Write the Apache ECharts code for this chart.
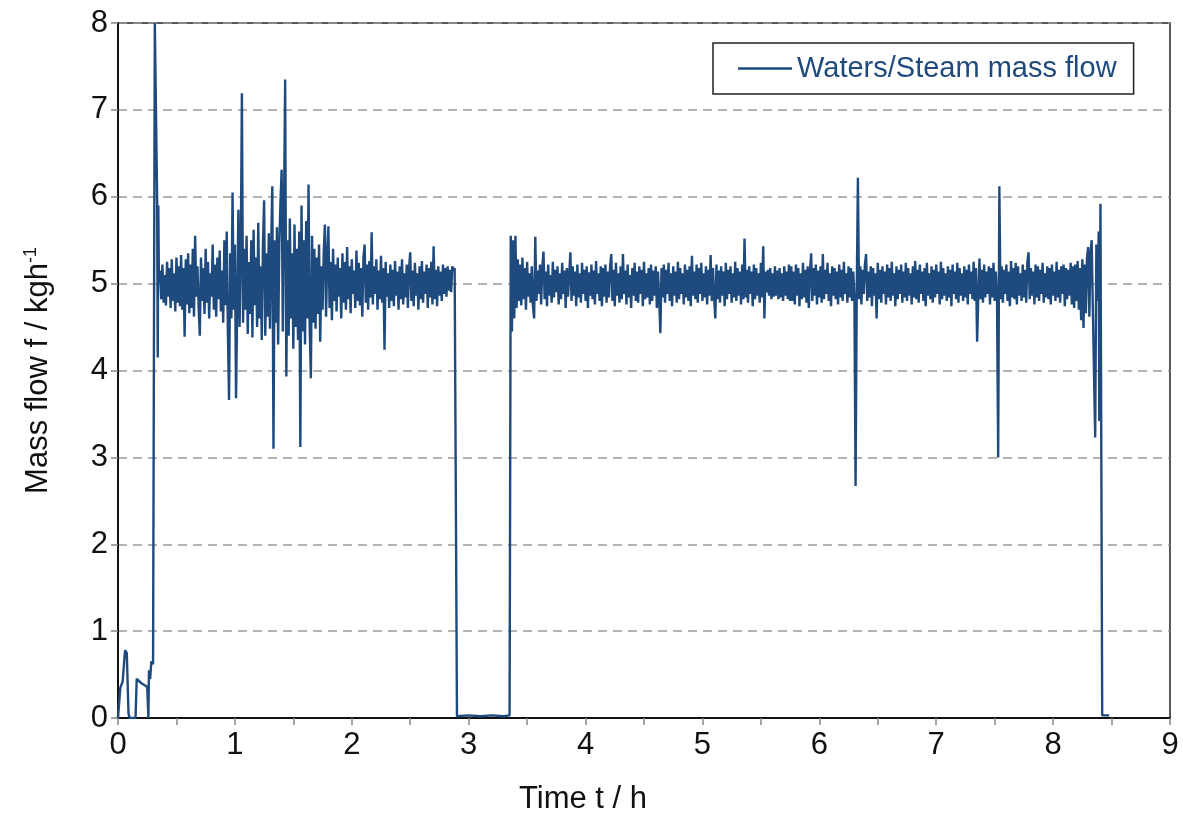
<!DOCTYPE html>
<html>
<head>
<meta charset="utf-8">
<title>Waters/Steam mass flow</title>
<script src="https://cdn.jsdelivr.net/npm/echarts@6/dist/echarts.min.js"></script>
<style>
  html, body { margin: 0; padding: 0; background: #fff; }
  #chart { width: 1183px; height: 819px; }
</style>
</head>
<body>
<div id="chart"></div>
<script>
// samples, time in h, mass flow in kg/h
const sampleStep = 0.01;

const startupPoints = [
  [0, 0], [0.02, 0.35], [0.04, 0.42], [0.06, 0.78], [0.075, 0.75], [0.09, 0.05],
  [0.10, 0], [0.15, 0], [0.16, 0.45], [0.20, 0.40], [0.25, 0.36], [0.26, 0],
  [0.265, 0.55], [0.275, 0.45], [0.285, 0.65], [0.30, 0.62], [0.315, 8.0],
  [0.335, 5.95], [0.34, 4.15], [0.345, 5.9], [0.35, 5.0]
];

// first run, one value every 0.01 h from 0.36 h
const runAStart = 0.36;
const runAValues = [
  5.15, 4.82, 5.22, 4.78, 5.10, 4.75, 5.25, 4.85, 5.18, 4.72,
  5.28, 4.80, 5.12, 4.68, 5.30, 4.78, 5.20, 4.74, 5.33, 4.70,
  5.18, 4.39, 5.28, 4.76, 5.35, 4.66, 5.22, 4.72, 5.40, 4.62,
  5.55, 4.85, 5.20, 4.72, 4.40, 5.30, 4.80, 5.18, 4.65, 5.40,
  4.78, 5.25, 4.60, 5.12, 4.85, 5.45, 4.70, 5.22, 4.62, 5.30,
  4.82, 5.38, 4.68, 5.15, 4.55, 5.50, 4.75, 5.60, 4.45, 3.66,
  5.35, 4.60, 6.05, 4.70, 5.45, 3.68, 4.80, 5.85, 4.50, 5.30,
  7.19, 4.55, 5.40, 4.70, 5.55, 4.42, 5.25, 4.65, 5.50, 4.38,
  5.62, 4.75, 5.30, 4.50, 5.70, 4.60, 5.20, 4.35, 5.45, 5.96,
  4.40, 5.35, 4.62, 5.58, 4.48, 5.40, 6.12, 3.10, 5.50, 4.55,
  5.65, 4.30, 5.45, 5.94, 6.31, 4.45, 5.80, 7.35, 3.93, 5.50,
  4.40, 5.75, 4.60, 5.35, 4.25, 5.68, 4.50, 5.40, 4.35, 5.60,
  3.12, 5.90, 4.45, 5.50, 4.30, 5.72, 4.60, 6.14, 4.50, 3.91,
  5.55, 4.55, 5.40, 4.48, 5.30, 4.65, 5.45, 4.33, 5.20, 4.70,
  5.35, 5.68, 4.62, 5.30, 5.66, 4.72, 5.25, 4.58, 5.40, 4.80,
  5.22, 4.68, 5.30, 4.85, 5.18, 4.60, 5.35, 4.78, 5.25, 4.70,
  5.42, 4.82, 5.20, 4.66, 5.28, 4.88, 5.15, 4.72, 5.38, 4.80,
  5.24, 4.75, 5.18, 4.62, 5.30, 5.45, 4.78, 5.22, 4.70, 5.26,
  4.84, 5.59, 4.76, 5.20, 4.88, 5.28, 4.70, 5.15, 4.82, 5.32,
  4.78, 5.18, 4.24, 5.25, 4.85, 5.12, 4.72, 5.22, 4.80, 5.16,
  4.74, 5.26, 4.86, 5.14, 4.70, 5.20, 4.82, 5.28, 4.76, 5.12,
  4.84, 5.22, 4.72, 5.18, 5.36, 4.80, 5.15, 4.74, 5.24, 4.86,
  5.12, 4.70, 5.20, 4.82, 5.26, 4.78, 5.14, 4.88, 5.22, 4.72,
  5.18, 4.84, 5.25, 4.76, 5.43, 4.82, 5.16, 4.74, 5.20, 4.86,
  5.14, 4.80, 5.22, 4.88, 5.18, 4.85, 5.20, 4.92, 5.16, 4.90,
  5.20, 5.15, 5.18
];

const idlePoints = [
  [2.90, 0.02], [3.00, 0.03], [3.10, 0.02], [3.20, 0.03], [3.30, 0.02], [3.35, 0.03]
];

// second run, one value every 0.01 h from 3.36 h
const runBStart = 3.36;
const runBValues = [
  5.55, 4.45, 5.50, 4.60, 5.55, 4.72, 5.28, 4.80, 5.22, 4.75,
  5.30, 4.82, 5.18, 4.70, 5.25, 4.85, 5.12, 4.78, 5.20, 4.74,
  4.60, 5.54, 4.80, 5.15, 4.88, 5.22, 4.76, 5.18, 5.37, 4.82,
  5.14, 4.74, 5.22, 4.86, 5.10, 4.78, 5.25, 4.84, 5.16, 4.90,
  5.20, 4.76, 5.12, 4.82, 5.24, 4.88, 5.15, 4.72, 5.18, 4.85,
  5.10, 5.36, 4.80, 5.20, 4.86, 5.14, 4.74, 5.22, 4.84, 5.12,
  4.78, 5.24, 4.88, 5.16, 4.80, 5.20, 4.72, 5.13, 4.86, 5.22,
  4.82, 5.15, 4.76, 5.26, 4.88, 5.12, 4.80, 5.20, 4.74, 5.18,
  4.85, 5.22, 4.78, 5.14, 4.84, 5.20, 5.34, 4.80, 5.16, 4.74,
  5.24, 4.86, 5.12, 4.78, 5.20, 4.82, 5.34, 4.88, 5.15, 4.76,
  5.22, 4.84, 5.10, 4.72, 5.18, 4.86, 5.24, 4.80, 5.14, 4.78,
  5.20, 4.88, 5.16, 4.74, 5.25, 4.82, 5.12, 4.84, 5.18, 4.76,
  5.22, 4.80, 5.15, 4.86, 5.20, 4.72, 5.14, 4.82, 4.43, 5.18,
  4.84, 5.22, 4.78, 5.16, 4.88, 5.24, 4.80, 5.12, 4.74, 5.20,
  4.86, 5.14, 4.78, 5.25, 4.82, 5.18, 4.88, 5.12, 4.76, 5.22,
  4.84, 5.16, 4.80, 5.20, 4.74, 5.32, 4.86, 5.14, 4.82, 5.22,
  4.78, 5.18, 4.88, 5.24, 4.80, 5.12, 4.84, 5.20, 4.76, 5.16,
  4.86, 5.33, 4.80, 5.18, 4.84, 4.60, 5.22, 4.82, 5.15, 4.78,
  5.20, 4.86, 5.14, 4.74, 5.24, 4.82, 5.16, 4.88, 5.20, 4.78,
  5.12, 4.84, 5.25, 4.80, 5.18, 4.86, 5.14, 4.76, 5.22, 4.82,
  5.52, 4.84, 5.16, 4.78, 5.20, 4.88, 5.14, 4.74, 5.22, 4.82,
  5.18, 4.86, 5.12, 4.78, 5.24, 4.84, 5.43, 4.60, 5.14, 4.90,
  5.16, 4.86, 5.18, 4.82, 5.12, 4.85, 5.20, 4.86, 5.15, 4.82,
  5.18, 4.84, 5.12, 4.80, 5.20, 4.86, 5.14, 4.82, 5.22, 4.80,
  5.20, 4.80, 5.14, 4.76, 5.22, 4.86, 5.18, 4.74, 5.12, 4.82,
  5.24, 4.84, 5.16, 4.78, 5.20, 4.72, 5.14, 5.35, 4.80, 5.18,
  4.86, 5.22, 4.76, 5.15, 4.84, 5.20, 4.78, 5.34, 4.82, 5.16,
  4.88, 5.24, 4.80, 5.12, 4.74, 5.20, 4.86, 5.18, 4.82, 5.14,
  4.76, 5.22, 4.84, 5.16, 4.80, 5.25, 4.88, 5.12, 4.78, 5.20,
  4.84, 5.18, 4.80, 5.14, 4.86, 2.67, 4.90, 6.22, 4.82, 5.20,
  4.76, 5.16, 4.88, 5.22, 5.34, 4.80, 5.14, 4.84, 5.20, 4.74,
  5.18, 4.86, 5.12, 4.60, 5.24, 4.82, 5.16, 4.78, 5.20, 4.88,
  5.14, 4.76, 5.22, 4.84, 5.18, 4.80, 5.25, 4.86, 5.12, 4.74,
  5.20, 4.82, 5.16, 4.88, 5.22, 4.78, 5.14, 4.84, 5.24, 4.80,
  5.18, 4.86, 5.12, 4.76, 5.20, 4.84, 5.26, 4.82, 5.16, 4.78,
  5.22, 4.88, 5.14, 4.80, 5.18, 4.74, 5.24, 4.86, 5.12, 4.82,
  5.20, 4.78, 5.16, 4.84, 5.22, 4.88, 5.14, 4.76, 5.25, 4.82,
  5.18, 4.86, 5.12, 4.80, 5.20, 4.84, 5.16, 4.74, 5.22, 4.88,
  5.14, 4.82, 5.24, 4.78, 5.18, 4.86, 5.12, 4.80, 5.20, 4.84,
  5.16, 4.76, 5.22, 4.88, 5.14, 4.82, 5.25, 4.80, 5.18, 4.33,
  4.86, 5.29, 4.82, 5.16, 4.78, 5.22, 4.84, 5.14, 4.88, 5.20,
  4.76, 5.18, 4.84, 5.24, 4.80, 5.14, 4.86, 3.00, 6.12, 4.82,
  5.20, 4.78, 5.16, 4.88, 5.22, 4.80, 5.14, 4.74, 5.26, 4.84,
  5.18, 4.82, 5.24, 4.76, 5.20, 4.86, 5.12, 4.80, 5.22, 4.84,
  5.16, 4.78, 5.25, 5.36, 4.82, 5.18, 4.86, 5.14, 4.76, 5.22,
  4.84, 5.20, 4.80, 5.16, 4.88, 5.24, 4.78, 5.12, 4.84, 5.20,
  4.82, 5.18, 4.76, 5.22, 4.86, 5.14, 4.80, 5.25, 4.84, 5.16,
  4.78, 5.20, 4.88, 5.22, 4.74, 5.18, 4.82, 5.16, 4.86, 5.24,
  4.76, 5.20, 4.72, 5.22, 4.80, 5.26, 4.70, 5.18, 4.58, 5.28,
  4.49, 5.22, 4.66, 5.30, 5.42, 4.62, 5.35, 5.50, 4.70
];

const shutdownPoints = [
  [8.35, 4.70], [8.36, 3.23], [8.37, 5.45], [8.38, 4.80], [8.39, 5.60],
  [8.395, 3.42], [8.405, 5.92], [8.415, 5.92], [8.42, 0.03], [8.48, 0.03]
];

const xTicks = [0, 1, 2, 3, 4, 5, 6, 7, 8, 9];

function runPoints(start, values) {
  return values.map(function (v, i) {
    return [+(start + i * sampleStep).toFixed(3), v];
  });
}

const flowData = [].concat(
  startupPoints,
  runPoints(runAStart, runAValues),
  idlePoints,
  runPoints(runBStart, runBValues),
  shutdownPoints
);

const font = '"Liberation Sans", Arial, sans-serif';
const lineColor = '#1f4a7e';

const myChart = echarts.init(document.getElementById('chart'));
const option = {
  animation: false,
  backgroundColor: '#fff',
  grid: {
    left: 118,
    right: 13,
    top: 23,
    bottom: 101,
    outerBoundsMode: 'none',
    show: true,
    borderColor: '#222',
    borderWidth: 1.5
  },
  legend: {
    left: 713,
    top: 43,
    orient: 'horizontal',
    icon: 'rect',
    itemWidth: 54,
    itemHeight: 2.5,
    itemGap: 5,
    padding: [11, 17, 11, 25],
    borderColor: '#222',
    borderWidth: 1.5,
    backgroundColor: '#fff',
    textStyle: { fontFamily: font, fontSize: 29, color: lineColor }
  },
  xAxis: {
    type: 'value',
    min: 0,
    max: 9,
    interval: 0.5,
    name: 'Time t / h',
    nameLocation: 'middle',
    nameGap: 66,
    nameTextStyle: { fontFamily: font, fontSize: 31, color: '#111', padding: [0, 122, 0, 0] },
    axisLine: { show: true, lineStyle: { color: '#111', width: 2 } },
    axisTick: { show: true, length: 7, lineStyle: { color: '#888', width: 1.5 } },
    axisLabel: {
      fontFamily: font,
      fontSize: 31,
      color: '#111',
      margin: 12,
      formatter: function (v) {
        return xTicks.indexOf(v) >= 0 ? String(v) : '';
      }
    },
    splitLine: { show: false }
  },
  yAxis: {
    type: 'value',
    min: 0,
    max: 8,
    interval: 1,
    name: '{a|Mass flow f / kgh}{b|-1}',
    nameLocation: 'middle',
    nameGap: 64,
    nameRotate: 90,
    nameTextStyle: {
      fontFamily: font,
      fontSize: 31,
      color: '#111',
      rich: {
        a: { fontFamily: font, fontSize: 31, color: '#111' },
        b: { fontFamily: font, fontSize: 18, color: '#111', verticalAlign: 'top', padding: [0, 0, 14, 0] }
      }
    },
    axisLine: { show: true, lineStyle: { color: '#111', width: 2 } },
    axisTick: { show: true, length: 7, lineStyle: { color: '#888', width: 1.5 } },
    axisLabel: { fontFamily: font, fontSize: 31, color: '#111', margin: 10 },
    splitLine: {
      show: true,
      lineStyle: { color: '#999', width: 1.5, type: [9, 6] }
    }
  },
  series: [
    {
      name: 'Waters/Steam mass flow',
      type: 'line',
      data: flowData,
      showSymbol: false,
      symbol: 'none',
      lineStyle: { color: lineColor, width: 2.4 },
      itemStyle: { color: lineColor }
    }
  ]
};
myChart.setOption(option);
</script>
</body>
</html>
